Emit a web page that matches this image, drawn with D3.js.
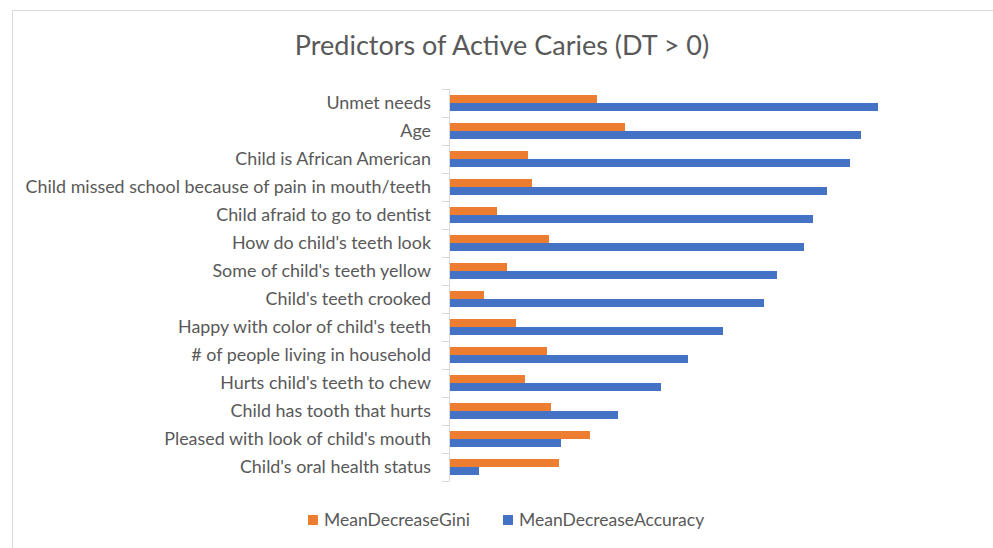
<!DOCTYPE html>
<html>
<head>
<meta charset="utf-8">
<script src="https://cdn.jsdelivr.net/npm/d3@7"></script>
<style>
  body { margin: 0; background: #fff; }
</style>
</head>
<body>
<div id="chart"></div>
<script>
// categories, top to bottom
const categories = [
    "Unmet needs",
    "Age",
    "Child is African American",
    "Child missed school because of pain in mouth/teeth",
    "Child afraid to go to dentist",
    "How do child's teeth look",
    "Some of child's teeth yellow",
    "Child's teeth crooked",
    "Happy with color of child's teeth",
    "# of people living in household",
    "Hurts child's teeth to chew",
    "Child has tooth that hurts",
    "Pleased with look of child's mouth",
    "Child's oral health status"
];
const seriesNames = ["MeanDecreaseGini", "MeanDecreaseAccuracy"];
const giniValues = [14.8, 17.6, 7.9, 8.3, 4.8, 10.0, 5.8, 3.5, 6.7, 9.8, 7.6, 10.2, 14.1, 11.0];
const accuracyValues = [42.9, 41.2, 40.1, 37.8, 36.4, 35.5, 32.8, 31.5, 27.4, 23.9, 21.2, 16.9, 11.2, 3.0];
const seriesColors = ["#ED7D31", "#4472C4"];

const width = 993, height = 548;
const font = "Lato, 'Open Sans', sans-serif";
const textColor = "#595959";

const rows = categories.map((c, i) => ({
    name: c,
    values: [giniValues[i], accuracyValues[i]]
}));

const svg = d3.select("#chart").append("svg")
    .attr("width", width)
    .attr("height", height)
    .style("font-family", font);

// chart area border (runs off the picture on the right/bottom)
svg.append("rect")
    .attr("x", 12.5).attr("y", 10.5)
    .attr("width", 1100).attr("height", 600)
    .attr("fill", "#fff")
    .attr("stroke", "#d9d9d9");

// scales
const x = d3.scaleLinear().domain([0, 45]).range([449, 899]);
const y = d3.scaleBand().domain(categories).range([89, 481]);
const ySub = d3.scaleBand().domain(seriesNames).range([0, y.bandwidth()]).paddingOuter(0.75);

// bars
const groups = svg.selectAll(".cat")
    .data(rows)
    .join("g")
    .attr("class", "cat")
    .attr("transform", d => `translate(0,${y(d.name)})`);

groups.selectAll("rect")
    .data(d => d.values.map((v, j) => ({ key: seriesNames[j], value: v, color: seriesColors[j] })))
    .join("rect")
    .attr("x", x(0))
    .attr("y", d => ySub(d.key))
    .attr("width", d => x(d.value) - x(0))
    .attr("height", ySub.bandwidth())
    .attr("fill", d => d.color);

// category axis: line + ticks at band boundaries
const axis = svg.append("g");
axis.append("line")
    .attr("x1", 449.5).attr("x2", 449.5)
    .attr("y1", 89).attr("y2", 481)
    .attr("stroke", "#d9d9d9");
axis.selectAll(".tick")
    .data(d3.range(categories.length + 1))
    .join("line")
    .attr("class", "tick")
    .attr("x1", 442).attr("x2", 449.5)
    .attr("y1", i => Math.round(89 + i * y.step()) + 0.5)
    .attr("y2", i => Math.round(89 + i * y.step()) + 0.5)
    .attr("stroke", "#d9d9d9");

// category labels
svg.selectAll(".label")
    .data(categories)
    .join("text")
    .attr("class", "label")
    .attr("x", 431)
    .attr("y", d => y(d) + y.bandwidth() / 2)
    .attr("dy", "0.35em")
    .attr("text-anchor", "end")
    .style("font-size", "17.9px")
    .style("fill", textColor)
    .text(d => d);

// title
svg.append("text")
    .attr("x", 502)
    .attr("y", 55)
    .attr("text-anchor", "middle")
    .style("font-size", "27px")
    .style("fill", textColor)
    .text("Predictors of Active Caries (DT > 0)");

// legend
const legendX = [308, 503];
const legend = svg.selectAll(".legend")
    .data(seriesNames)
    .join("g")
    .attr("class", "legend")
    .attr("transform", (d, i) => `translate(${legendX[i]},515)`);
legend.append("rect")
    .attr("width", 10).attr("height", 10)
    .attr("fill", (d, i) => seriesColors[i]);
legend.append("text")
    .attr("x", 16)
    .attr("y", 5)
    .attr("dy", "0.35em")
    .style("font-size", "17.5px")
    .style("fill", textColor)
    .text(d => d);
</script>
</body>
</html>
